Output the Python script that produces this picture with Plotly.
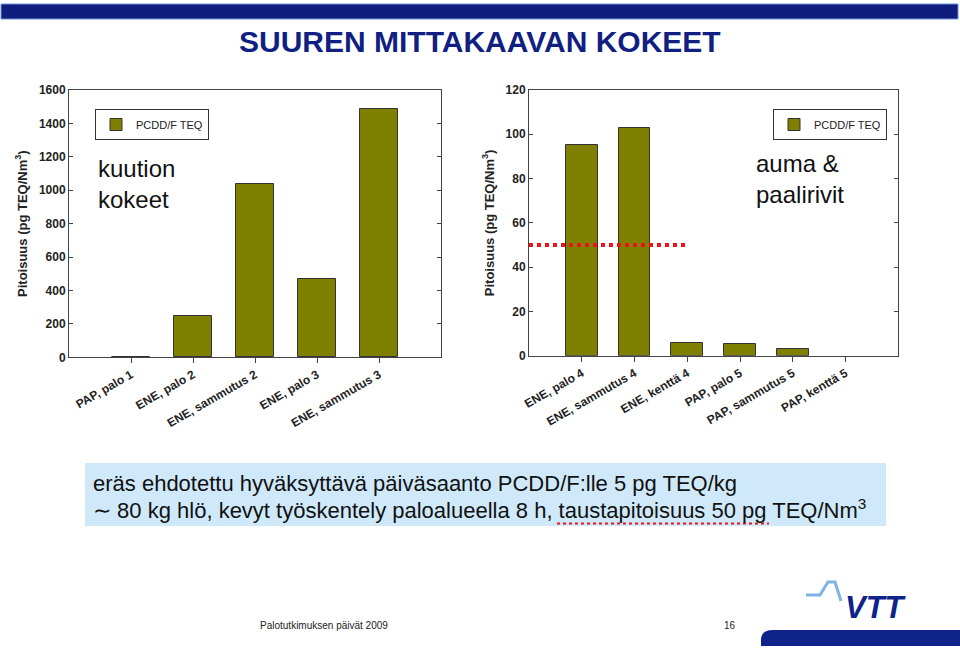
import plotly.graph_objects as go

# ---------------- data ----------------
left_categories = ["PAP, palo 1", "ENE, palo 2", "ENE, sammutus 2", "ENE, palo 3", "ENE, sammutus 3"]
left_values = [3, 250, 1037, 470, 1486]

right_categories = ["ENE, palo 4", "ENE, sammutus 4", "ENE, kenttä 4",
                    "PAP, palo 5", "PAP, sammutus 5", "PAP, kenttä 5"]
right_values = [95.2, 102.8, 5.7, 5.4, 2.9, None]

left_yticks = [0, 200, 400, 600, 800, 1000, 1200, 1400, 1600]
right_yticks = [0, 20, 40, 60, 80, 100, 120]

series_name = "PCDD/F TEQ"
threshold_value = 50          # taustapitoisuus 50 pg TEQ/Nm3

# ---------------- styling ----------------
W, H = 960, 648
FONT = "Arial, Liberation Sans, sans-serif"
OLIVE = "#808000"
NAVY = "#111f82"
AXIS = "#444444"


def px(x):
    return x / W


def py(y):
    return 1 - y / H


fig = go.Figure()

fig.add_trace(go.Bar(
    x=list(range(len(left_categories))), y=left_values, name=series_name,
    marker=dict(color=OLIVE, line=dict(color="#333333", width=1)),
    width=0.61, xaxis="x", yaxis="y", legend="legend",
    hovertext=left_categories,
))
fig.add_trace(go.Bar(
    x=list(range(len(right_categories))), y=right_values, name=series_name,
    marker=dict(color=OLIVE, line=dict(color="#333333", width=1)),
    width=0.6, xaxis="x2", yaxis="y2", legend="legend2",
    hovertext=right_categories,
))

tickfont = dict(family=FONT, size=12, color="#222222", weight="bold")

common_x = dict(showline=True, linecolor=AXIS, linewidth=1, mirror=True,
                ticks="outside", ticklen=5, tickcolor=AXIS, tickangle=-30,
                tickfont=tickfont, showgrid=False, zeroline=False)
common_y = dict(showline=True, linecolor=AXIS, linewidth=1, mirror="ticks",
                ticks="inside", ticklen=4, tickcolor=AXIS,
                tickfont=tickfont, showgrid=False, zeroline=False)

ytitle = dict(text="Pitoisuus (pg TEQ/Nm<sup>3</sup>)",
              font=dict(family=FONT, size=13, color="#222222", weight="bold"),
              standoff=8)

fig.update_layout(
    width=W, height=H,
    margin=dict(l=0, r=0, t=0, b=0, autoexpand=False),
    paper_bgcolor="white", plot_bgcolor="white",
    bargap=0, showlegend=True,
    xaxis=dict(domain=[px(69), px(441)], range=[-1, len(left_categories)],
               tickvals=list(range(len(left_categories))), ticktext=left_categories,
               anchor="y", **common_x),
    yaxis=dict(domain=[py(357.3), py(90)], range=[0, 1600],
               tickvals=left_yticks, anchor="x", title=ytitle, **common_y),
    xaxis2=dict(domain=[px(529), px(898.3)], range=[-1, len(right_categories)],
                tickvals=list(range(len(right_categories))), ticktext=right_categories,
                anchor="y2", **common_x),
    yaxis2=dict(domain=[py(355.7), py(90)], range=[0, 120],
                tickvals=right_yticks, anchor="x2", title=ytitle, **common_y),
    legend=dict(x=px(95), y=py(109), xanchor="left", yanchor="top",
                bordercolor="#333333", borderwidth=1, bgcolor="white",
                font=dict(family=FONT, size=11, color="#222222")),
    legend2=dict(x=px(773), y=py(109), xanchor="left", yanchor="top",
                 bordercolor="#333333", borderwidth=1, bgcolor="white",
                 font=dict(family=FONT, size=11, color="#222222")),
)

shapes = []
# threshold line (background concentration) drawn through the right axes
shapes.append(dict(type="line", xref="x2", yref="y2", x0=-1, x1=2.03,
                   y0=threshold_value, y1=threshold_value,
                   line=dict(color="#e8161b", width=4, dash="dot"), layer="above"))
# top band
shapes.append(dict(type="rect", xref="paper", yref="paper",
                   x0=px(1), x1=px(958), y0=py(19), y1=py(4),
                   fillcolor="#0e1d7e", line=dict(color="#6f8fd6", width=1)))
# light blue info box
shapes.append(dict(type="rect", xref="paper", yref="paper",
                   x0=px(85), x1=px(886), y0=py(526), y1=py(463),
                   fillcolor="#cfe9fa", line=dict(width=0), layer="below"))
# red dotted underline in box
shapes.append(dict(type="line", xref="paper", yref="paper",
                   x0=px(557), x1=px(769), y0=py(523.5), y1=py(523.5),
                   line=dict(color="#e8161b", width=2, dash="dot")))
# VTT logo wave
wave = [(806, 595), (820, 595), (828, 582), (835, 582), (841, 601)]
path = "M " + " L ".join(f"{px(a)},{py(b)}" for a, b in wave)
shapes.append(dict(type="path", xref="paper", yref="paper", path=path,
                   line=dict(color="#7fb2e5", width=3)))
# bottom blue bar with rounded corner
bar_path = (f"M {px(761)},{py(646)} L {px(761)},{py(640)} "
            f"Q {px(761)},{py(630)} {px(773)},{py(630)} "
            f"L {px(960)},{py(630)} L {px(960)},{py(646)} Z")
shapes.append(dict(type="path", xref="paper", yref="paper", path=bar_path,
                   fillcolor="#10238a", line=dict(width=0)))
fig.update_layout(shapes=shapes)

ann = []
ann.append(dict(text="SUUREN MITTAKAAVAN KOKEET", x=0.5, y=py(42),
                xref="paper", yref="paper", xanchor="center", yanchor="middle",
                showarrow=False,
                font=dict(family=FONT, size=30, color=NAVY, weight="bold")))
ann.append(dict(text="kuution<br>kokeet", x=px(96), y=py(183.5),
                xref="paper", yref="paper", xanchor="left", yanchor="middle",
                align="left", showarrow=False,
                font=dict(family=FONT, size=24, color="#111111")))
ann.append(dict(text="auma &amp;<br>paalirivit", x=px(754), y=py(178.5),
                xref="paper", yref="paper", xanchor="left", yanchor="middle",
                align="left", showarrow=False,
                font=dict(family=FONT, size=24, color="#111111")))
ann.append(dict(text="eräs ehdotettu hyväksyttävä päiväsaanto PCDD/F:lle 5 pg TEQ/kg",
                x=px(91), y=py(483), xref="paper", yref="paper",
                xanchor="left", yanchor="middle", showarrow=False,
                font=dict(family=FONT, size=22, color="#111111")))
ann.append(dict(text="∼ 80 kg hlö, kevyt työskentely paloalueella 8 h, taustapitoisuus 50 pg TEQ/Nm<sup>3</sup>",
                x=px(91), y=py(509), xref="paper", yref="paper",
                xanchor="left", yanchor="middle", showarrow=False,
                font=dict(family=FONT, size=22, color="#111111")))
ann.append(dict(text="Palotutkimuksen päivät 2009", x=px(258), y=py(625),
                xref="paper", yref="paper", xanchor="left", yanchor="middle",
                showarrow=False, font=dict(family=FONT, size=10, color="#222222")))
ann.append(dict(text="16", x=px(730), y=py(625),
                xref="paper", yref="paper", xanchor="center", yanchor="middle",
                showarrow=False, font=dict(family=FONT, size=10, color="#222222")))
ann.append(dict(text="<i>VTT</i>", x=px(876), y=py(607),
                xref="paper", yref="paper", xanchor="center", yanchor="middle",
                showarrow=False,
                font=dict(family=FONT, size=31, color="#10238a", weight="bold")))
fig.update_layout(annotations=ann)

fig.write_html("out.html")
